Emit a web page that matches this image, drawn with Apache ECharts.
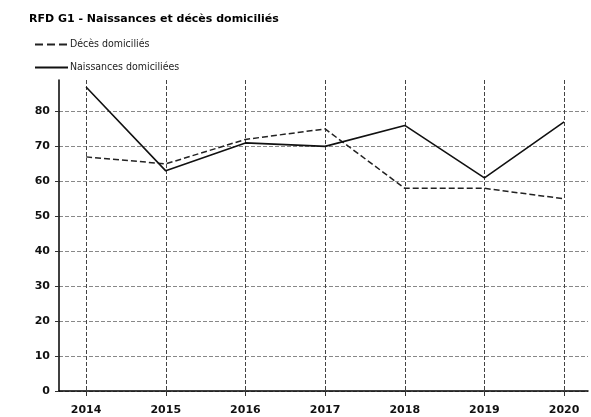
<!DOCTYPE html>
<html>
<head>
<meta charset="utf-8">
<script src="https://cdn.jsdelivr.net/npm/echarts@6/dist/echarts.min.js"></script>
<style>
  html, body { margin: 0; padding: 0; background: #fff; }
  #chart { width: 591px; height: 417px; }
</style>
</head>
<body>
<div id="chart"></div>
<script>
const years = [2014, 2015, 2016, 2017, 2018, 2019, 2020];
const naissances = [87, 63, 71, 70, 76, 61, 77];
const deces = [67, 65, 72, 75, 58, 58, 55];
const yTicks = [0, 10, 20, 30, 40, 50, 60, 70, 80];

(() => {
  const chart = echarts.init(document.getElementById('chart'));
  const labelFont = { fontFamily: 'DejaVu Sans', fontWeight: 'bold', fontSize: 11, color: '#111' };
  // last split line (at max) hidden
  const gridColors = yTicks.map(() => '#888').concat(['transparent']);

  const option = {
    animation: false,
    backgroundColor: '#fff',
    title: {
      text: 'RFD G1 - Naissances et décès domiciliés',
      left: 24,
      top: 9,
      textStyle: { fontFamily: 'DejaVu Sans', fontWeight: 'bold', fontSize: 11, color: '#000' }
    },
    legend: {
      data: ['Décès domiciliés', 'Naissances domiciliées'],
      orient: 'vertical',
      left: 29,
      top: 34,
      itemWidth: 33,
      itemHeight: 10,
      itemGap: 12,
      selectedMode: false,
      itemStyle: { opacity: 0 },
      textStyle: { fontFamily: 'DejaVu Sans Condensed, Liberation Sans Narrow', fontSize: 10.5, color: '#222', padding: [0, 0, 0, -3] }
    },
    grid: { left: 59, right: 3, top: 80, bottom: 26, containLabel: false },
    xAxis: {
      type: 'value',
      min: 2013.66,
      max: 2020.3,
      axisLine: { lineStyle: { color: '#000', width: 1.5 } },
      axisTick: { show: true, length: 5, customValues: years, lineStyle: { color: '#333' } },
      axisLabel: Object.assign({ customValues: years, margin: 14, formatter: v => String(v) }, labelFont),
      splitLine: { show: true, customValues: years, lineStyle: { type: 'dashed', color: '#444' } }
    },
    yAxis: {
      type: 'value',
      min: 0,
      max: 89,
      interval: 10,
      axisLine: { show: true, lineStyle: { color: '#000', width: 1.5 } },
      axisTick: { show: true, length: 4, lineStyle: { color: '#333' } },
      axisLabel: Object.assign({ margin: 9, showMaxLabel: false }, labelFont),
      splitLine: { show: true, lineStyle: { type: 'dashed', color: gridColors } }
    },
    series: [
      {
        name: 'Décès domiciliés',
        type: 'line',
        data: years.map((y, i) => [y, deces[i]]),
        symbol: 'none',
        color: '#222',
        lineStyle: { width: 1.5, type: 'dashed', color: '#222' }
      },
      {
        name: 'Naissances domiciliées',
        type: 'line',
        data: years.map((y, i) => [y, naissances[i]]),
        symbol: 'none',
        color: '#111',
        lineStyle: { width: 1.6, color: '#111' }
      }
    ]
  };

  chart.setOption(option);
})();
</script>
</body>
</html>
